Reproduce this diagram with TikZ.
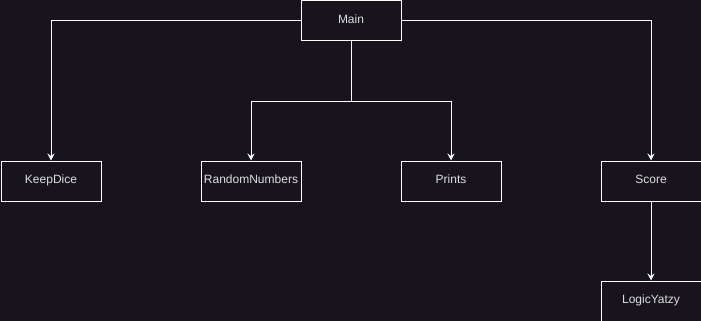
\documentclass[tikz,border=0pt]{standalone}
\usepackage{fontspec}
\setmainfont{Liberation Sans}
\usetikzlibrary{arrows.meta,calc}
\definecolor{bgcol}{RGB}{24,20,29}
\definecolor{textcol}{RGB}{222,222,222}
\begin{document}
\begin{tikzpicture}[x=1pt,y=-1pt,
  box/.style={draw=white, line width=1pt, minimum width=100pt, minimum height=40pt,
    inner sep=0pt, text height=8.6pt, text depth=4pt,
    text=textcol, font=\fontsize{12pt}{14pt}\selectfont, anchor=north west},
  link/.style={draw=white, line width=1pt, -{Stealth[length=7pt,width=7pt,inset=2.5pt]}},
  plain/.style={draw=white, line width=1pt}]
  \fill[bgcol] (0,0) rectangle (701,321);
  \useasboundingbox (0,0) rectangle (701,321);

  \node[box] (main)  at (300.5,0.5)   {Main};
  \node[box] (keep)  at (0.5,160.5)   {KeepDice};
  \node[box] (rand)  at (200.5,160.5) {RandomNumbers};
  \node[box] (print) at (400.5,160.5) {Prints};
  \node[box] (score) at (600.5,160.5) {Score};
  \node[box] (logic) at (600.5,280.5) {LogicYatzy};

  \coordinate (split) at ($(main.south)+(0,60)$);
  \draw[link] (main.west) -| (keep.north);
  \draw[link] (main.east) -| (score.north);
  \draw[plain] (main.south) -- (split);
  \draw[link] (split) -| (rand.north);
  \draw[link] (split) -| (print.north);
  \draw[link] (score.south) -- (logic.north);
\end{tikzpicture}
\end{document}
